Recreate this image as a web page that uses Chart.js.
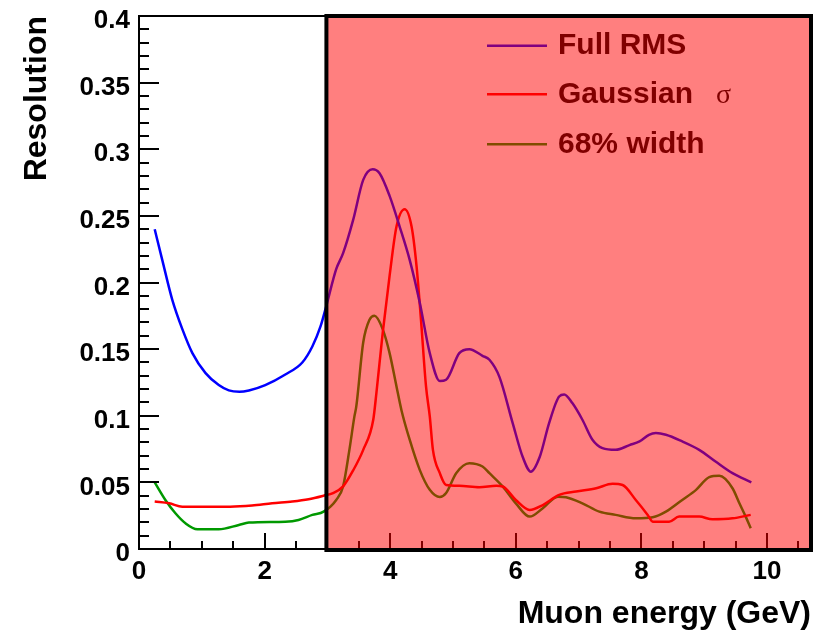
<!DOCTYPE html>
<html><head><meta charset="utf-8">
<script src="https://cdn.jsdelivr.net/npm/chart.js@4/dist/chart.umd.min.js"></script>
<style>html,body{margin:0;padding:0;background:#fff}#wrap{width:823px;height:630px;position:relative}</style>
</head><body><div id="wrap"><canvas id="c" width="823" height="630"></canvas></div>
<script>
// ---- data ----
const seriesNames = ['Full RMS', 'Gaussian', '68% width'];
const rmsEnergy = [0.25,0.37,0.53,0.69,0.85,1.06,1.27,1.43,1.6,1.75,2.01,2.33,2.6,2.76,2.89,2.98,3.14,3.25,3.41,3.57,3.72,3.83,3.99,4.15,4.31,4.47,4.63,4.79,4.89,5.1,5.26,5.47,5.58,5.74,5.95,6.11,6.24,6.38,6.53,6.69,6.77,6.9,7.06,7.22,7.38,7.59,7.81,7.97,8.12,8.23,8.39,8.65,8.92,9.18,9.45,9.75];
const rmsValue  = [0.240,0.217,0.187,0.165,0.147,0.132,0.123,0.119,0.118,0.119,0.123,0.131,0.140,0.152,0.167,0.182,0.210,0.222,0.247,0.277,0.285,0.282,0.265,0.242,0.217,0.185,0.147,0.126,0.127,0.147,0.150,0.145,0.142,0.129,0.0945,0.069,0.058,0.069,0.0945,0.1145,0.116,0.1095,0.097,0.082,0.0757,0.0744,0.078,0.0807,0.0857,0.087,0.0857,0.0807,0.0744,0.0656,0.0569,0.050];
const gausEnergy = [0.25,0.48,0.69,1.06,1.45,1.8,2.12,2.44,2.7,2.94,3.09,3.25,3.41,3.57,3.73,3.78,3.88,3.99,4.1,4.23,4.34,4.42,4.49,4.57,4.63,4.68,4.79,4.89,5.1,5.42,5.69,5.79,6.0,6.22,6.43,6.69,6.96,7.28,7.54,7.7,7.91,8.1,8.18,8.44,8.6,8.92,9.13,9.45,9.74];
const gausValue  = [0.0356,0.0343,0.0318,0.0318,0.0318,0.0326,0.0343,0.0356,0.0373,0.040,0.042,0.047,0.059,0.0744,0.097,0.117,0.162,0.205,0.242,0.255,0.242,0.212,0.172,0.122,0.0995,0.0744,0.0569,0.048,0.0474,0.0464,0.0474,0.0469,0.0368,0.0293,0.033,0.0406,0.0431,0.0456,0.0489,0.048,0.0368,0.0256,0.0205,0.0205,0.0243,0.0243,0.0223,0.023,0.0256];
const w68Energy = [0.25,0.42,0.58,0.74,0.93,1.27,1.59,1.75,2.33,2.54,2.76,2.94,3.14,3.25,3.35,3.43,3.46,3.57,3.67,3.75,3.88,3.99,4.1,4.18,4.31,4.47,4.63,4.79,4.89,5.05,5.26,5.47,5.58,5.79,6.0,6.22,6.43,6.67,6.8,7.06,7.33,7.59,7.91,8.18,8.39,8.65,8.87,9.08,9.24,9.45,9.56,9.66,9.74];
const w68Value  = [0.050,0.0368,0.0268,0.0193,0.0148,0.0148,0.018,0.0198,0.0205,0.0218,0.0256,0.028,0.0368,0.047,0.0744,0.0995,0.107,0.155,0.172,0.175,0.165,0.147,0.122,0.104,0.082,0.0594,0.0444,0.039,0.042,0.0569,0.0644,0.0619,0.0569,0.047,0.0343,0.0243,0.0306,0.0393,0.0389,0.0343,0.028,0.0256,0.023,0.0238,0.028,0.0368,0.0444,0.0539,0.0549,0.0456,0.0343,0.0243,0.0156];
const xTickLabels = ['0','2','4','6','8','10'];
const yTickLabels = ['0','0.05','0.1','0.15','0.2','0.25','0.3','0.35','0.4'];
const shadedFrom = 3;   // energy where the shaded region starts
const xMax = 10.7, yMax = 0.4;

const toPts = (xs, ys) => xs.map((v, i) => ({x: v, y: ys[i]}));
const FONT = "'Liberation Sans', Arial, Helvetica, sans-serif";

const decor = {
  id: 'decor',
  afterDatasetsDraw(chart) {
    const {ctx, chartArea: a, scales: {x, y}} = chart;
    ctx.save();
    ctx.strokeStyle = '#000';
    ctx.lineWidth = 2;
    const seg = (x1, y1, x2, y2) => { ctx.beginPath(); ctx.moveTo(x1, y1); ctx.lineTo(x2, y2); ctx.stroke(); };
    // frame (top/right)
    seg(a.left, a.top, a.right, a.top);
    seg(a.right, a.top, a.right, a.bottom);
    // inward ticks
    for (let i = 0; i <= 40; i++) {
      const py = Math.round(y.getPixelForValue(i * 0.01));
      seg(a.left, py, a.left + (i % 5 === 0 ? 20 : 10), py);
    }
    for (let i = 0; i <= 21; i++) {
      const px = Math.round(x.getPixelForValue(i * 0.5));
      seg(px, a.bottom, px, a.bottom - (i % 4 === 0 ? 16 : 8));
    }
    // legend
    const rows = [45.7, 94.3, 144.3];
    chart.data.datasets.forEach((ds, i) => {
      ctx.strokeStyle = ds.borderColor;
      ctx.lineWidth = 2.5;
      seg(487, rows[i], 547, rows[i]);
      ctx.fillStyle = '#000';
      ctx.font = 'bold 30px ' + FONT;
      ctx.textBaseline = 'middle';
      ctx.textAlign = 'left';
      ctx.fillText(seriesNames[i], 558, rows[i]);
    });
    ctx.font = "28px 'Liberation Serif', 'DejaVu Serif', serif";
    ctx.fillText('σ', 716, rows[1] + 1);
    // shaded region
    const x0 = x.getPixelForValue(shadedFrom);
    ctx.fillStyle = 'rgba(255,0,0,0.5)';
    ctx.fillRect(x0, a.top, a.right - x0, a.bottom - a.top);
    ctx.strokeStyle = '#000';
    ctx.lineWidth = 4;
    ctx.strokeRect(x0 - 1, a.top, a.right - x0 + 1, a.bottom - a.top + 1);
    ctx.restore();
  }
};

const mk = (label, pts, color) => ({
  label, data: pts, borderColor: color, backgroundColor: color,
  borderWidth: 2.5, pointRadius: 0, fill: false, cubicInterpolationMode: 'monotone'
});

new Chart(document.getElementById('c'), {
  type: 'line',
  data: {
    datasets: [
      mk(seriesNames[0], toPts(rmsEnergy, rmsValue), '#0000ff'),
      mk(seriesNames[1], toPts(gausEnergy, gausValue), '#ff0000'),
      mk(seriesNames[2], toPts(w68Energy, w68Value), '#009900')
    ]
  },
  options: {
    responsive: false, animation: false, devicePixelRatio: 1,
    layout: {padding: {top: 16, right: 12, left: 0, bottom: 0}},
    plugins: {legend: {display: false}, tooltip: {enabled: false}},
    scales: {
      x: {
        type: 'linear', min: 0, max: xMax,
        grid: {display: false, drawTicks: false},
        border: {display: true, color: '#000', width: 2},
        ticks: {stepSize: 2, includeBounds: false, autoSkip: false, maxRotation: 0, padding: 7,
          color: '#000', font: {family: FONT, size: 26, weight: 'bold', lineHeight: 1.2},
          callback: (v, i) => xTickLabels[i]},
        title: {display: true, text: 'Muon energy (GeV)', align: 'end', color: '#000',
          font: {family: FONT, size: 32, weight: 'bold', lineHeight: 1}, padding: {top: 0, bottom: 0}},
        afterFit: s => { s.height = 81; s.paddingLeft = 0; s.paddingRight = 0; }
      },
      y: {
        type: 'linear', min: 0, max: yMax,
        grid: {display: false, drawTicks: false},
        border: {display: true, color: '#000', width: 2},
        ticks: {stepSize: 0.05, autoSkip: false, padding: 9, labelOffset: 5,
          color: '#000', font: {family: FONT, size: 26, weight: 'bold', lineHeight: 1.2},
          callback: (v, i) => yTickLabels[i]},
        title: {display: true, text: 'Resolution', align: 'end', color: '#000',
          font: {family: FONT, size: 32, weight: 'bold', lineHeight: 1}, padding: {top: 21, bottom: 0}},
        afterFit: s => { s.width = 139; s.paddingTop = 0; s.paddingBottom = 0; }
      }
    }
  },
  plugins: [decor]
});
</script></body></html>
